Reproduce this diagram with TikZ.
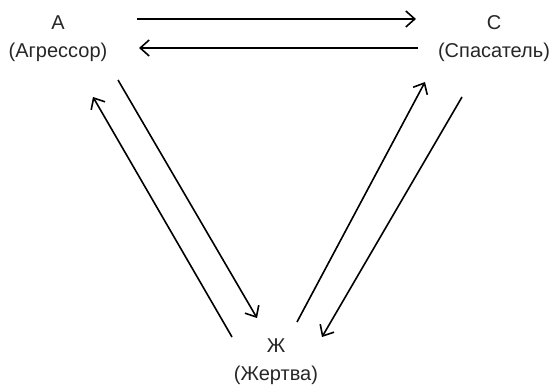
\documentclass[tikz,border=0pt]{standalone}
\usepackage{fontspec}
\setmainfont{Liberation Sans}
\usetikzlibrary{arrows.meta}
\begin{document}
\begin{tikzpicture}[x=1pt,y=-1pt,
  lbl/.style={align=center,font=\fontsize{20}{28}\selectfont,text=black!85,inner sep=0pt},
  conn/.style={line width=1.6pt,-{Straight Barb[length=9pt,width=16pt,line width=1.6pt]}}]
\useasboundingbox (0,0) rectangle (552,387);
\node[lbl,anchor=base] (A) at (58,58) {А\\(Агрессор)};
\node[lbl,anchor=base] (C) at (494,58) {С\\(Спасатель)};
\node[lbl,anchor=base] (Zh) at (276,381) {Ж\\(Жертва)};
% connector end points
\coordinate (ac1) at (137,19);  \coordinate (ac2) at (416,19);
\coordinate (ca1) at (418,48);  \coordinate (ca2) at (139,48);
\coordinate (az1) at (118,80);  \coordinate (az2) at (257,318);
\coordinate (za1) at (232,337); \coordinate (za2) at (93,97);
\coordinate (zc1) at (297,322); \coordinate (zc2) at (425,82);
\coordinate (cz1) at (462,97);  \coordinate (cz2) at (322,337);
\draw[conn] (ac1) -- (ac2);
\draw[conn] (ca1) -- (ca2);
\draw[conn] (az1) -- (az2);
\draw[conn] (za1) -- (za2);
\draw[conn] (zc1) -- (zc2);
\draw[conn] (cz1) -- (cz2);
\end{tikzpicture}
\end{document}
